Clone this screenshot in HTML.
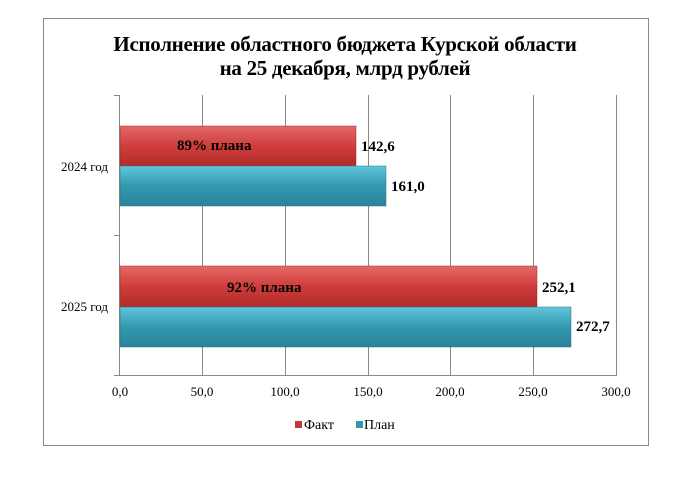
<!DOCTYPE html>
<html><head><meta charset="utf-8"><style>
body{margin:0;background:#fff;}
svg{display:block;font-family:"Liberation Serif",serif;}
</style></head><body>
<svg width="674" height="480" viewBox="0 0 674 480">
<defs>
<linearGradient id="r" x1="0" y1="0" x2="0" y2="1"><stop offset="0" stop-color="#e36a68"/><stop offset="0.5" stop-color="#cf3d3b"/><stop offset="1" stop-color="#b02c2a"/></linearGradient>
<linearGradient id="b" x1="0" y1="0" x2="0" y2="1"><stop offset="0" stop-color="#5fc6dc"/><stop offset="0.5" stop-color="#3399b0"/><stop offset="1" stop-color="#2a8298"/></linearGradient>
</defs>
<rect x="43.5" y="18.5" width="605" height="427" fill="#fff" stroke="#888"/>
<text x="345" y="51" text-anchor="middle" font-size="21" font-weight="bold" letter-spacing="-0.3">Исполнение областного бюджета Курской области</text>
<text x="345" y="75" text-anchor="middle" font-size="21" font-weight="bold" letter-spacing="-0.3">на 25 декабря, млрд рублей</text>
<g stroke="#888" stroke-width="1">
<line x1="202.5" y1="95" x2="202.5" y2="376"/><line x1="285.5" y1="95" x2="285.5" y2="376"/><line x1="368.5" y1="95" x2="368.5" y2="376"/><line x1="450.5" y1="95" x2="450.5" y2="376"/><line x1="533.5" y1="95" x2="533.5" y2="376"/><line x1="616.5" y1="95" x2="616.5" y2="376"/>
<line x1="119.5" y1="95" x2="119.5" y2="376"/>
<line x1="114" y1="95.5" x2="120" y2="95.5"/><line x1="114" y1="235.5" x2="120" y2="235.5"/><line x1="114" y1="375.5" x2="616" y2="375.5"/>
</g>
<rect x="120" y="126" width="236" height="40" fill="url(#r)" stroke="#a02828" stroke-width="0.5"/>
<rect x="120" y="166" width="266" height="40" fill="url(#b)" stroke="#247587" stroke-width="0.5"/>
<rect x="120" y="266" width="417" height="41" fill="url(#r)" stroke="#a02828" stroke-width="0.5"/>
<rect x="120" y="307" width="451" height="40" fill="url(#b)" stroke="#247587" stroke-width="0.5"/>
<g font-size="15" font-weight="bold">
<text x="177" y="150">89% плана</text>
<text x="361" y="151">142,6</text>
<text x="391" y="191">161,0</text>
<text x="227" y="292">92% плана</text>
<text x="542" y="292">252,1</text>
<text x="576" y="331">272,7</text>
</g>
<g font-size="13">
<text x="108" y="171" text-anchor="end">2024 год</text>
<text x="108" y="311" text-anchor="end">2025 год</text>
<text x="120" y="396" text-anchor="middle">0,0</text>
<text x="202" y="396" text-anchor="middle">50,0</text>
<text x="285" y="396" text-anchor="middle">100,0</text>
<text x="368" y="396" text-anchor="middle">150,0</text>
<text x="450" y="396" text-anchor="middle">200,0</text>
<text x="533" y="396" text-anchor="middle">250,0</text>
<text x="616" y="396" text-anchor="middle">300,0</text>
<rect x="295" y="421" width="7" height="7" fill="#c03a38"/>
<text x="304" y="429" font-size="14">Факт</text>
<rect x="356" y="421" width="7" height="7" fill="#3399b0"/>
<text x="364" y="429" font-size="14">План</text>
</g>
</svg>
</body></html>
